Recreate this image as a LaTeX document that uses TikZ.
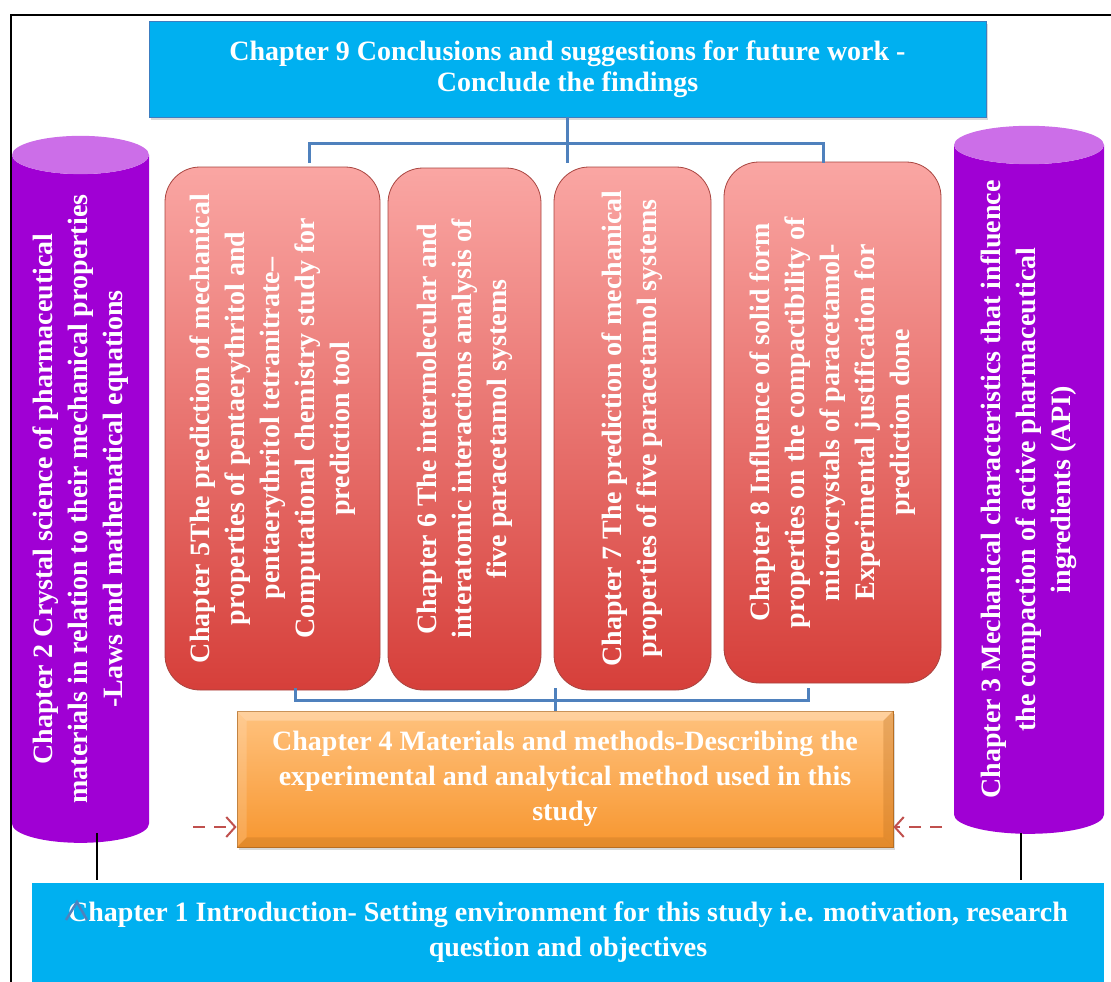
\documentclass[tikz,border=0pt]{standalone}
\usepackage{fontspec}
\setmainfont{Liberation Serif}
\usepackage{tikz}
\usetikzlibrary{shapes.geometric, arrows.meta, positioning, calc, shadows}
\definecolor{cyanbox}{HTML}{00B0F0}
\definecolor{cyanedge}{HTML}{3C7DC0}
\definecolor{redtop}{HTML}{FAA6A3}
\definecolor{redbot}{HTML}{D63F3A}
\definecolor{rededge}{HTML}{A8443F}
\definecolor{orangetop}{HTML}{FFC27E}
\definecolor{orangebot}{HTML}{F7962F}
\definecolor{orangeedge}{HTML}{B86E22}
\definecolor{purplebody}{HTML}{A000D4}
\definecolor{purpletop}{HTML}{CC6EE8}
\definecolor{linkblue}{HTML}{4F81BD}
\definecolor{dashred}{HTML}{C0504D}
\newcommand{\boxfont}{\fontsize{28}{35}\selectfont\bfseries}
\tikzstyle{chapterbar} = [rectangle, align=center, text=white, fill=cyanbox, font=\boxfont]
\tikzstyle{redbox} = [rectangle, rounded corners=35pt, rotate=90, align=center, text=white, top color=redtop, bottom color=redbot, draw=rededge, line width=0.8pt, font=\boxfont]
\tikzstyle{methodbox} = [rectangle, align=center, text=white, top color=orangetop, bottom color=orangebot, draw=orangeedge, line width=0.8pt, font=\boxfont]
\tikzstyle{drum} = [cylinder, rotate=90, aspect=0.4, inner sep=0pt, cylinder uses custom fill, cylinder body fill=purplebody, cylinder end fill=purpletop, align=center, text=white, font=\boxfont]
\tikzstyle{link} = [draw=linkblue, line width=3pt]
\tikzstyle{drop} = [black, line width=1.2pt]
\tikzstyle{dasharrow} = [draw=dashred, line width=2pt, dash pattern=on 12pt off 9pt, -{Straight Barb[length=9pt, width=20pt]}]

\begin{document}
\begin{tikzpicture}[x=1pt, y=-1pt]
    \useasboundingbox (0,0) rectangle (1111,982);
    % frame round the page
    \draw [line width=2pt] (11,982) -- (11,15) -- (1111,15);

    \node (ch9) [chapterbar, draw=cyanedge, line width=0.8pt, minimum width=837pt, minimum height=96pt, font=\fontsize{28}{31}\selectfont\bfseries, drop shadow={shadow xshift=2pt, shadow yshift=-3pt, opacity=0.3}] at (567.5,69) {Chapter 9 Conclusions and suggestions for future work -\\Conclude the findings};

    \node (ch2) [drum, minimum width=137pt, minimum height=707pt] at (80.5,499) {Chapter 2 Crystal science of pharmaceutical\\materials in relation to their mechanical properties\\-Laws and mathematical equations};
    \node (ch3) [drum, minimum width=150pt, minimum height=708pt] at (1029,489.5) {Chapter 3 Mechanical characteristics that influence\\the compaction of active pharmaceutical\\ingredients (API)};

    \node (ch5) [redbox, minimum width=523pt, minimum height=215pt] at (272.5,428.5) {Chapter 5The prediction of mechanical\\properties of pentaerythritol and\\pentaerythritol tetranitrate–\\Computational chemistry study for\\prediction tool};
    \node (ch6) [redbox, minimum width=522pt, minimum height=153pt] at (464.5,429) {Chapter 6 The intermolecular and\\interatomic interactions analysis of\\five paracetamol systems};
    \node (ch7) [redbox, minimum width=523pt, minimum height=157pt] at (632.5,428.5) {Chapter 7 The prediction of mechanical\\properties of five paracetamol systems};
    \node (ch8) [redbox, minimum width=521pt, minimum height=217pt] at (832.5,422.5) {Chapter 8 Influence of solid form\\properties on the compactibility of\\microcrystals of paracetamol-\\Experimental justification for\\prediction done};

    \node (ch4) [methodbox, minimum width=656pt, minimum height=136pt, drop shadow={shadow xshift=2pt, shadow yshift=-3pt, opacity=0.3}] at (565,779) {Chapter 4 Materials and methods-Describing the\\experimental and analytical method used in this\\study};
    % bevel of the methods box
    \fill [white, opacity=0.25] (ch4.north west) -- (ch4.north east) -- ($(ch4.north east)+(-10,10)$) -- ($(ch4.north west)+(10,10)$) -- cycle;
    \fill [white, opacity=0.15] (ch4.north west) -- (ch4.south west) -- ($(ch4.south west)+(10,-10)$) -- ($(ch4.north west)+(10,10)$) -- cycle;
    \fill [orangeedge, opacity=0.3] (ch4.north east) -- (ch4.south east) -- ($(ch4.south east)+(-10,-10)$) -- ($(ch4.north east)+(-10,10)$) -- cycle;
    \fill [orangeedge, opacity=0.3] (ch4.south west) -- (ch4.south east) -- ($(ch4.south east)+(-10,-10)$) -- ($(ch4.south west)+(10,-10)$) -- cycle;

    \node (ch1) [chapterbar, minimum width=1072pt, minimum height=99pt] at (568,932.5) {Chapter 1 Introduction- Setting environment for this study i.e. motivation, research\\question and objectives};

    % brackets
    \coordinate (topleft) at (309,163);
    \coordinate (topright) at (823,163);
    \coordinate (topbar) at (567.5,143);
    \draw [link] (ch9.south) -- (ch9.south |- topleft);
    \draw [link] (topleft) |- (topbar) -| (topright);
    \coordinate (botleft) at (295,688);
    \coordinate (botright) at (808,688);
    \coordinate (botbar) at (555,700);
    \draw [link] (botleft) |- (botbar) -| (botright);
    \draw [link] (botbar |- botleft) -- (botbar |- ch4.north);

    \draw [drop] ($(ch2.west)+(16.5,-10)$) -- ($(ch2.west |- ch1.north)+(16.5,-3)$);
    \draw [drop] ($(ch3.west)+(-8,-1)$) -- ($(ch3.west |- ch1.north)+(-8,-3)$);

    \coordinate (leftdash) at (193,827);
    \coordinate (rightdash) at (942,827);
    \draw [dasharrow] (leftdash) -- (leftdash -| ch4.west);
    \draw [dasharrow] (rightdash) -- (rightdash -| ch4.east);

    \draw [link, line width=2.5pt] (66,920) -- (77,902) -- (87,920);
\end{tikzpicture}
\end{document}
